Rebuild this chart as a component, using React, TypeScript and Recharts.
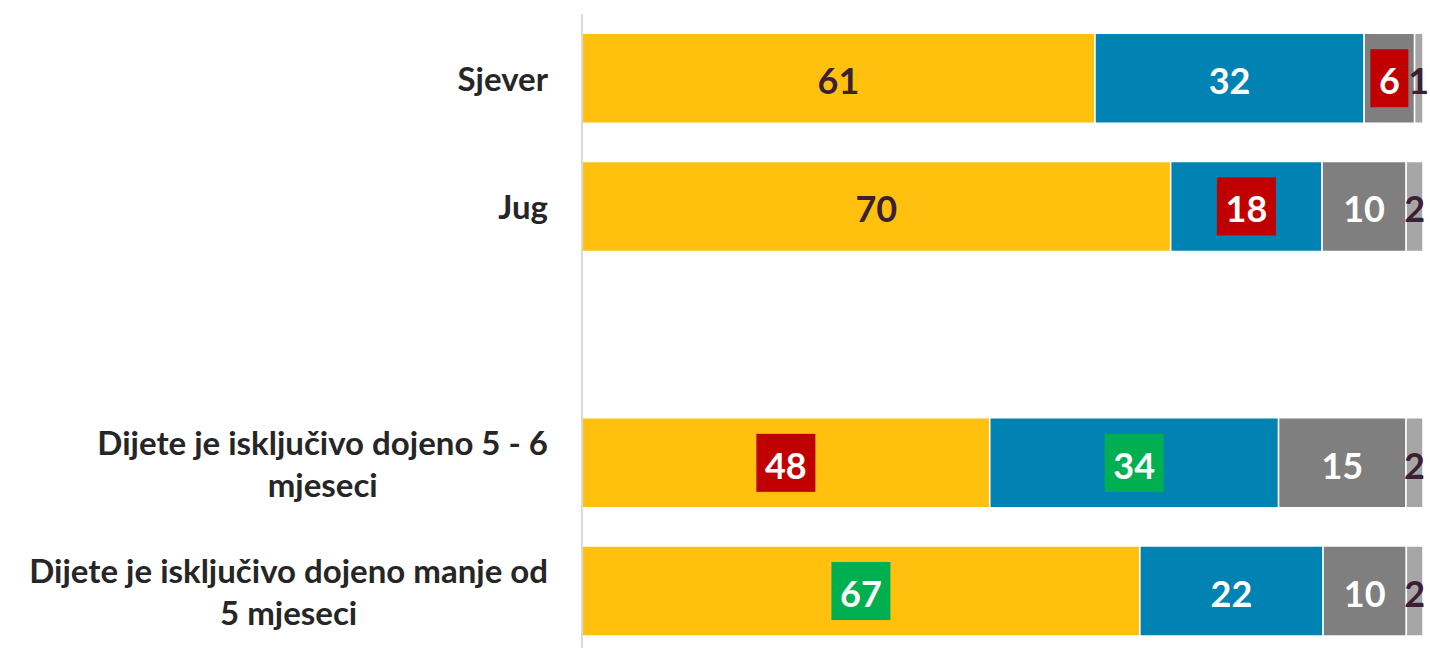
import React from "react";
import { BarChart, Bar, XAxis, YAxis, LabelList } from "recharts";

const categories = [
  "Sjever",
  "Jug",
  "",
  "Dijete je isključivo dojeno 5 - 6 mjeseci",
  "Dijete je isključivo dojeno manje od 5 mjeseci",
];
const series1 = [61, 70, null, 48, 67];
const series2 = [32, 18, null, 34, 22];
const series3 = [6, 10, null, 15, 10];
const series4 = [1, 2, null, 2, 2];
// significance: -1 significantly lower, 1 significantly higher, 0 none
const sig1 = [0, 0, 0, -1, 1];
const sig2 = [0, -1, 0, 1, 0];
const sig3 = [-1, 0, 0, 0, 0];
const sig4 = [0, 0, 0, 0, 0];

const data = categories.map((name, i) => ({
  name,
  s1: series1[i],
  s2: series2[i],
  s3: series3[i],
  s4: series4[i],
}));

const TICK_FONT_SIZE = 33;
const TICK_FONT = `700 ${TICK_FONT_SIZE}px Lato`;
const LABEL_FONT = "Lato";

let ctx: CanvasRenderingContext2D | null = null;
function measure(text: string): number {
  if (!ctx) {
    const c = document.createElement("canvas");
    ctx = c.getContext("2d");
  }
  if (!ctx) return text.length * TICK_FONT_SIZE * 0.45;
  ctx.font = TICK_FONT;
  return ctx.measureText(text).width;
}

function wrap(text: string, maxW: number): string[] {
  const words = text.split(" ");
  const lines: string[] = [];
  let cur = "";
  for (const w of words) {
    const t = cur ? cur + " " + w : w;
    if (measure(t) > maxW && cur) {
      lines.push(cur);
      cur = w;
    } else {
      cur = t;
    }
  }
  if (cur) lines.push(cur);
  return lines;
}

const CustomTick = (props: any) => {
  const { x, y, payload } = props;
  const text: string = payload?.value ?? "";
  if (!text) return null;
  const lines = wrap(text, 545);
  const blockW = Math.max(...lines.map(measure));
  const cx = x - blockW / 2;
  const lh = 42;
  const startY = y - ((lines.length - 1) * lh) / 2;
  return (
    <g>
      {lines.map((l, i) => (
        <text
          key={i}
          x={cx}
          y={startY + i * lh}
          textAnchor="middle"
          dominantBaseline="central"
          fontFamily="Lato"
          fontWeight={700}
          fontSize={TICK_FONT_SIZE}
          fill="#262626"
        >
          {l}
        </text>
      ))}
    </g>
  );
};

// label accessor: returns "value|significance" from the row itself
const accessor = (key: "s1" | "s2" | "s3" | "s4", sig: number[]) => (entry: any) => {
  const v = entry[key];
  if (v == null) return null;
  const i = categories.indexOf(entry.name);
  return `${v}|${sig[i] ?? 0}`;
};

const makeLabel = (textColor: string) => (props: any) => {
  const { x, y, width, height, value } = props;
  if (value == null) return null;
  const [s, m] = String(value).split("|");
  if (!s || s === "0") return null;
  const mark = Number(m) || 0;
  const cx = x + width / 2;
  const cy = y + height / 2;
  const boxW = s.length === 1 ? 38 : 59;
  const boxH = 58;
  const bg = mark < 0 ? "#C00000" : mark > 0 ? "#00B050" : null;
  return (
    <g>
      {bg && (
        <rect x={cx - boxW / 2} y={cy - boxH / 2} width={boxW} height={boxH} fill={bg} />
      )}
      <text
        x={cx}
        y={cy + 2}
        textAnchor="middle"
        dominantBaseline="central"
        fontFamily={LABEL_FONT}
        fontWeight={700}
        fontSize={36}
        fill={bg ? "#FFFFFF" : textColor}
      >
        {s}
      </text>
    </g>
  );
};

export default function App() {
  return (
    <div
      style={{
        position: "absolute",
        left: 0,
        top: 0,
        width: 1430,
        height: 648,
        overflow: "hidden",
        background: "#fff",
      }}
    >
      <BarChart
        width={1430}
        height={660}
        data={data}
        layout="vertical"
        stackOffset="expand"
        barCategoryGap="15%"
        margin={{ top: 14, right: 7, bottom: 5, left: 0 }}
      >
        <XAxis type="number" hide domain={[0, 1]} />
        <YAxis
          type="category"
          dataKey="name"
          width={582}
          tickLine={false}
          tickSize={0}
          tickMargin={34}
          axisLine={{ stroke: "#D9D9D9", strokeWidth: 2 }}
          tick={<CustomTick />}
          interval={0}
        />
        <Bar dataKey="s1" name="Serija 1" stackId="a" fill="#FFC10E" stroke="#FFFFFF" strokeWidth={1.5} isAnimationActive={false}>
          <LabelList dataKey={accessor("s1", sig1)} content={makeLabel("#3A1F35")} />
        </Bar>
        <Bar dataKey="s2" name="Serija 2" stackId="a" fill="#0083B3" stroke="#FFFFFF" strokeWidth={1.5} isAnimationActive={false}>
          <LabelList dataKey={accessor("s2", sig2)} content={makeLabel("#FFFFFF")} />
        </Bar>
        <Bar dataKey="s3" name="Serija 3" stackId="a" fill="#7F7F7F" stroke="#FFFFFF" strokeWidth={1.5} isAnimationActive={false}>
          <LabelList dataKey={accessor("s3", sig3)} content={makeLabel("#FFFFFF")} />
        </Bar>
        <Bar dataKey="s4" name="Serija 4" stackId="a" fill="#A6A6A6" stroke="#FFFFFF" strokeWidth={1.5} isAnimationActive={false}>
          <LabelList dataKey={accessor("s4", sig4)} content={makeLabel("#3A1F35")} />
        </Bar>
      </BarChart>
    </div>
  );
}
